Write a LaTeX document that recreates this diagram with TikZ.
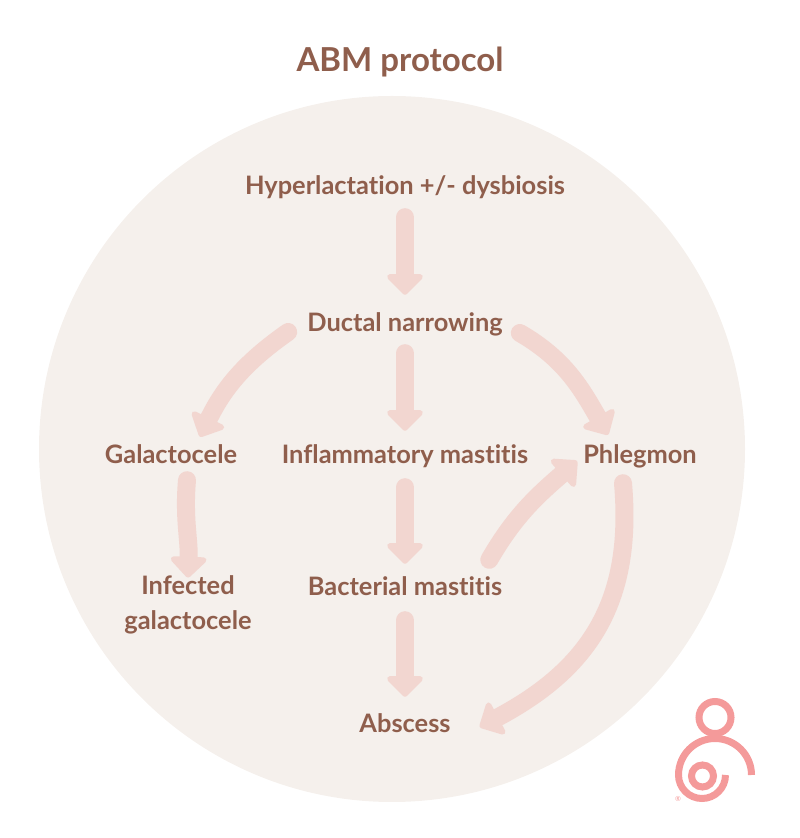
\documentclass[tikz,border=0pt]{standalone}
\usepackage{fontspec}
\setmainfont{Lato}[Ligatures = CommonOff]
\usetikzlibrary{arrows.meta}
\definecolor{discbg}{HTML}{F5F0EC}
\definecolor{flowpink}{HTML}{F2D6D0}
\definecolor{stagebrown}{HTML}{8F5E4C}
\definecolor{logopink}{HTML}{F49A9A}
\tikzset{
	stagetext/.style = {inner sep = 0, text = stagebrown, font = \fontsize{25.4}{35}\selectfont\bfseries, text height = 24pt, text depth = 4pt},
	flowarrow/.style = {line width = 18pt, line cap = round, flowpink, -{Triangle[length = 22pt, width = 42pt, round]}},
	logoline/.style = {line width = 7pt, logopink}
}
\begin{document}
\begin{tikzpicture}[x = 1pt, y = 1pt]
	\useasboundingbox (0, 0) rectangle (800, 838);
	\fill[discbg] (392, 389) circle (353);
	\node (title) [stagetext, font = \fontsize{33}{35}\selectfont\bfseries] at (400, 776) {ABM protocol};
	\node (hyper) [stagetext] at (405, 653) {Hyperlactation +/- dysbiosis};
	\node (ductal) [stagetext] at (405, 516) {Ductal narrowing};
	\node (galacto) [stagetext] at (171, 384) {Galactocele};
	\node (inflam) [stagetext] at (405, 384) {Inflammatory mastitis};
	\node (phleg) [stagetext] at (640, 384) {Phlegmon};
	\node (infected) [stagetext, text height = , text depth = , align = center] at (188, 233) {Infected\\galactocele};
	\node (bact) [stagetext] at (405, 252) {Bacterial mastitis};
	\node (absc) [stagetext] at (405, 115) {Abscess};
	\foreach \a/\b/\s/\e in {hyper/ductal/18/13, ductal/inflam/17/9, inflam/bact/19/8, bact/absc/20/12}
	\draw[flowarrow, shorten < = \s pt, shorten > = \e pt] (\a) -- (\b);
	\draw[flowarrow] ([xshift = -19pt, yshift = -10pt]ductal.west) to[out = 215, in = 64] ([xshift = 29pt, yshift = 3pt]galacto.north);
	\draw[flowarrow] ([xshift = 17pt, yshift = -11pt]ductal.east) to[out = -30, in = 120] ([xshift = -32pt, yshift = 5pt]phleg.north);
	\draw[flowarrow] ([xshift = -13pt, yshift = 12pt]bact.north east) to[out = 60, in = 221] ([xshift = -6pt, yshift = -7pt]phleg.west);
	\draw[flowarrow] ([xshift = -17pt, yshift = -15pt]phleg.south) to[out = 275, in = 28, looseness = 1.1] ([xshift = 29pt, yshift = -4pt]absc.east);
	\draw[flowarrow] ([xshift = 16pt, yshift = -12pt]galacto.south) to[out = 265, in = 88] ([yshift = -2pt]infected.north);
	\draw[logoline] (715, 120.5) circle (16);
	\draw[logoline] (751.5, 63) arc[start angle = 0, end angle = 180, radius = 36.5] arc[start angle = 180, end angle = 360, radius = 23.5];
	\draw[logoline] (702.5, 62) circle (11);
	\node (regmark) [inner sep = 0, text = logopink, font = \fontsize{7}{7}\selectfont] at (678, 39) {®};
\end{tikzpicture}
\end{document}
